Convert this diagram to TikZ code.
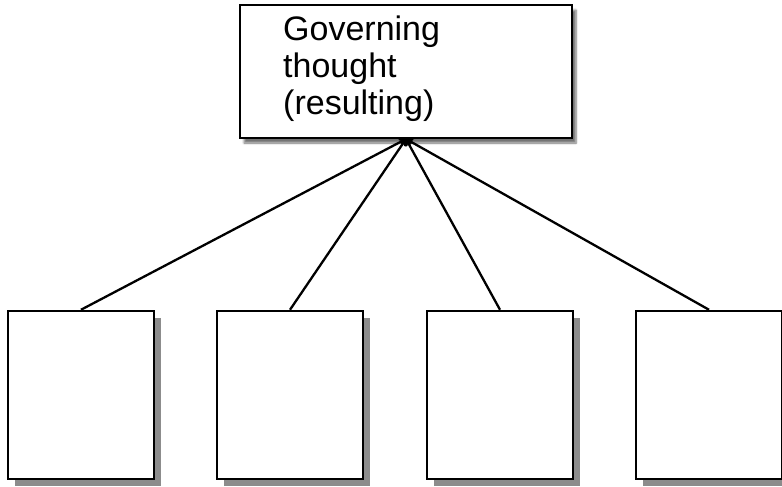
\documentclass[tikz,border=0pt]{standalone}
\usepackage{fontspec}
\setmainfont{Liberation Sans}
\usetikzlibrary{arrows.meta,shadows,shadows.blur}
\tikzset{
  leaf/.style={draw=black, line width=2.5pt, fill=white, minimum width=146pt, minimum height=168pt, inner sep=0pt,
    drop shadow={shadow xshift=7pt, shadow yshift=-7pt, fill=black!45, opacity=1}},
  link/.style={line width=2.3pt, -{To[length=7pt,width=8pt]}}
}
\begin{document}
\begin{tikzpicture}[x=1pt,y=-1pt]
\useasboundingbox (0,0) rectangle (782,487);
\begin{scope}
\clip (0,0) rectangle (782,487);
% top box
\node[draw=black, line width=2pt, fill=white, minimum width=332pt, minimum height=133pt, inner sep=0pt,
  blur shadow={shadow xshift=4pt, shadow yshift=-5pt, shadow blur steps=6, shadow opacity=55}] (top) at (406,71.5) {};
\node[anchor=north west, align=left, font=\fontsize{34}{37}\selectfont, inner sep=0pt] (txt) at (283,16)
  {Governing\\thought\\(resulting)};
\node[leaf] (b1) at (81,395) {};
\node[leaf] (b2) at (290,395) {};
\node[leaf] (b3) at (500,395) {};
\node[leaf] (b4) at (709,395) {};
\coordinate (tip) at (406,139);
\draw[link] (b1.north) -- (tip);
\draw[link] (b2.north) -- (tip);
\draw[link] (b3.north) -- (tip);
\draw[link] (b4.north) -- (tip);
\end{scope}
\end{tikzpicture}
\end{document}
